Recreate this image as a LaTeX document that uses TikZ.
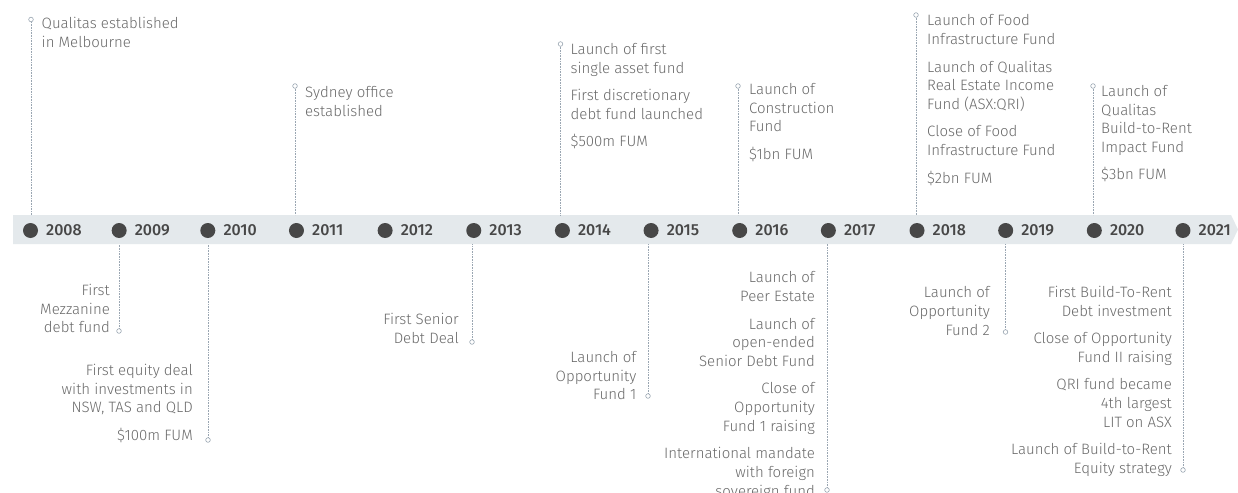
\documentclass[tikz,border=0pt]{standalone}
\usepackage{fontspec}
\setmainfont{Fira Sans}[UprightFont={* Light},BoldFont={* Medium}]
\definecolor{bandcol}{HTML}{E4E9EC}
\definecolor{dotcol}{HTML}{474747}
\definecolor{tickcol}{HTML}{9AA6B2}
\definecolor{txtcol}{HTML}{6A6A6A}
\tikzset{
  yeardot/.style={circle,fill=dotcol,minimum size=15pt,inner sep=0pt},
  yearlbl/.style={anchor=west,inner sep=0pt,text=dotcol,font=\bfseries\fontsize{16}{19}\selectfont},
  tick/.style={draw=tickcol,line width=0.6pt,dash pattern=on 0.7pt off 0.9pt},
  pin/.style={circle,draw=tickcol,fill=white,minimum size=4.6pt,inner sep=0pt,line width=0.6pt},
  upnote/.style={anchor=north west,align=left,inner sep=0pt,text=txtcol,font=\fontsize{15}{18.7}\selectfont},
  downnote/.style={anchor=north east,align=right,inner sep=0pt,text=txtcol,font=\fontsize{15}{18.7}\selectfont}
}
\newcommand{\gapline}{\\[8.8pt]}
\begin{document}
\begin{tikzpicture}[x=1pt,y=-1pt]
\clip (0,0) rectangle (1238,492);
\fill[white] (0,0) rectangle (1238,492);
% timeline band with a pointed right end
\fill[bandcol] (13,215) -- (1231,215) -- (1238,229.5) -- (1231,244) -- (13,244) -- cycle;
\coordinate (bt) at (0,215);
\coordinate (bb) at (0,244);
% year markers
\foreach \yr [count=\i from 0] in {2008,2009,2010,2011,2012,2013,2014,2015,2016,2017,2018,2019,2020,2021} {
  \node[yeardot] (d\yr) at ({30.5+88.65*\i},230.5) {};
  \node[yearlbl] (l\yr) at ({46+88.65*\i},230.5) {\yr};
}
% events above the band
\node[pin] (p2008) at (31,19.5) {};
\draw[tick] (p2008.south) -- (p2008 |- bt);
\node[upnote] (n2008) at (41.5,17.5) {Qualitas established\\in Melbourne};

\node[pin] (p2011) at (295,86) {};
\draw[tick] (p2011.south) -- (p2011 |- bt);
\node[upnote] (n2011) at (305,86) {Sydney office\\established};

\node[pin] (p2014) at (560.5,44) {};
\draw[tick] (p2014.south) -- (p2014 |- bt);
\node[upnote] (n2014) at (570.5,43) {Launch of first\\single asset fund\gapline First discretionary\\debt fund launched\gapline \$500m FUM};

\node[pin] (p2016) at (738,86) {};
\draw[tick] (p2016.south) -- (p2016 |- bt);
\node[upnote] (n2016) at (749,83) {Launch of\\Construction\\Fund\gapline \$1bn FUM};

\node[pin] (p2018) at (916,15) {};
\draw[tick] (p2018.south) -- (p2018 |- bt);
\node[upnote] (n2018) at (927,14.5) {Launch of Food\\Infrastructure Fund\gapline Launch of Qualitas\\Real Estate Income\\Fund (ASX:QRI)\gapline Close of Food\\Infrastructure Fund\gapline \$2bn FUM};

\node[pin] (p2020) at (1093,86) {};
\draw[tick] (p2020.south) -- (p2020 |- bt);
\node[upnote] (n2020) at (1101,85) {Launch of\\Qualitas\\Build-to-Rent\\Impact Fund\gapline \$3bn FUM};

% events below the band
\node[pin] (p2009) at (119,331) {};
\draw[tick] (p2009.north) -- (p2009 |- bb);
\node[downnote] (n2009) at (110,284) {First\\Mezzanine\\debt fund};

\node[pin] (p2010) at (208,440) {};
\draw[tick] (p2010.north) -- (p2010 |- bb);
\node[downnote] (n2010) at (193,364) {First equity deal\\with investments in\\NSW, TAS and QLD\gapline \$100m FUM};

\node[pin] (p2013) at (472,342) {};
\draw[tick] (p2013.north) -- (p2013 |- bb);
\node[downnote] (n2013) at (459,313) {First Senior\\Debt Deal};

\node[pin] (p2015) at (648,396) {};
\draw[tick] (p2015.north) -- (p2015 |- bb);
\node[downnote] (n2015) at (636.5,351) {Launch of\\Opportunity\\Fund 1};

\node[pin] (p2017) at (827,490) {};
\draw[tick] (p2017.north) -- (p2017 |- bb);
\node[downnote] (n2017) at (815,271.5) {Launch of\\Peer Estate\gapline Launch of\\open-ended\\Senior Debt Fund\gapline Close of\\Opportunity\\Fund 1 raising\gapline International mandate\\with foreign\\sovereign fund};

\node[pin] (p2019) at (1005.5,332) {};
\draw[tick] (p2019.north) -- (p2019 |- bb);
\node[downnote] (n2019) at (990,286.5) {Launch of\\Opportunity\\Fund 2};

\node[pin] (p2021) at (1183,470) {};
\draw[tick] (p2021.north) -- (p2021 |- bb);
\node[downnote] (n2021) at (1172,286) {First Build-To-Rent\\Debt investment\gapline Close of Opportunity\\Fund II raising\gapline QRI fund became\\4th largest\\LIT on ASX\gapline Launch of Build-to-Rent\\Equity strategy};
\end{tikzpicture}
\end{document}
